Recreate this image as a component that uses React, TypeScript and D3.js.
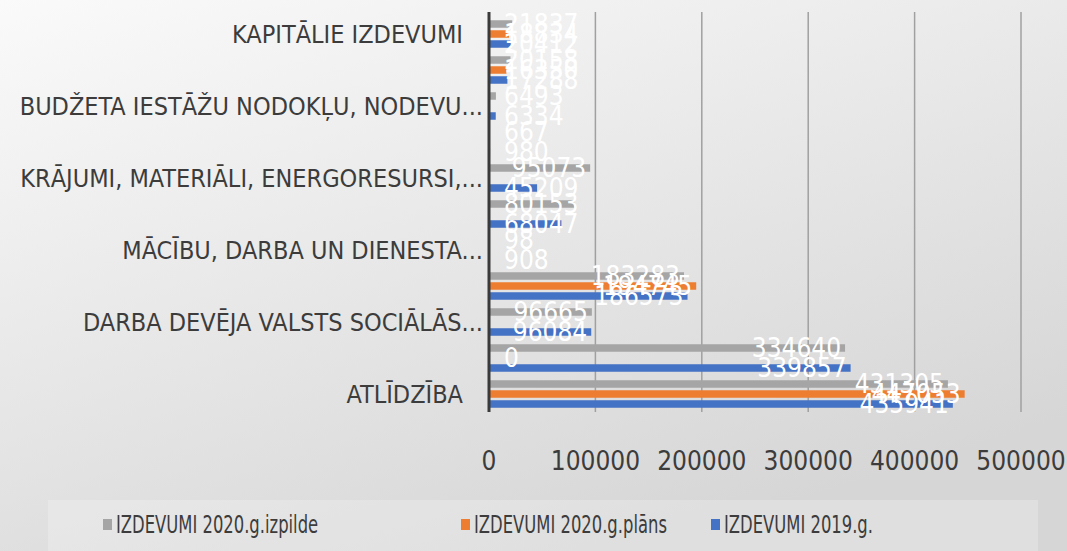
import React, { useEffect, useRef } from "react";
import * as d3 from "d3";

const categories = [
  "ATLĪDZĪBA",
  "ATALGOJUMS",
  "DARBA DEVĒJA VALSTS SOCIĀLĀS...",
  "PRECES UN PAKALPOJUMI",
  "MĀCĪBU, DARBA UN DIENESTA...",
  "PAKALPOJUMI",
  "KRĀJUMI, MATERIĀLI, ENERGORESURSI,...",
  "GRĀMATAS UN ŽURNĀLI",
  "BUDŽETA IESTĀŽU NODOKĻU, NODEVU...",
  "PAMATKAPITĀLA VEIDOŠANA",
  "KAPITĀLIE IZDEVUMI",
];
const seriesNames = ["IZDEVUMI 2020.g.izpilde", "IZDEVUMI 2020.g.plāns", "IZDEVUMI 2019.g."];
const seriesColors = ["#a5a5a5", "#ed7d31", "#4472c4"];
const izpilde2020: (number | null)[] = [431305, 334640, 96665, 183283, 98, 80153, 95073, 667, 6493, 20158, 21837];
const plans2020: (number | null)[] = [447053, 0, null, 194745, null, null, null, null, null, 16350, 18834];
const izdevumi2019: (number | null)[] = [435941, 339857, 96084, 186573, 908, 68047, 45209, 980, 6334, 17288, 20412];
const xTicks = [0, 100000, 200000, 300000, 400000, 500000];

const W = 1067;
const H = 551;
const FONT = "'DejaVu Sans Condensed', 'Liberation Sans Narrow', sans-serif";
const legendX = [103, 461, 711];

export default function App() {
  const ref = useRef<SVGSVGElement>(null);
  useEffect(() => {
    const svg = d3.select(ref.current);
    svg.selectAll("*").remove();
    const defs = svg.append("defs");
    const grad = defs
      .append("linearGradient")
      .attr("id", "bg")
      .attr("x1", "0")
      .attr("y1", "0")
      .attr("x2", "0.6")
      .attr("y2", "1");
    grad.append("stop").attr("offset", "0").attr("stop-color", "#fafafa");
    grad.append("stop").attr("offset", "1").attr("stop-color", "#d6d6d6");
    svg.append("rect").attr("width", W).attr("height", H).attr("fill", "url(#bg)");

    // legend box
    svg
      .append("rect")
      .attr("x", 48)
      .attr("y", 500)
      .attr("width", 990)
      .attr("height", 51)
      .attr("fill", "#ffffff")
      .attr("opacity", 0.22);

    const x = d3.scaleLinear().domain([0, 500000]).range([489, 1021]);
    const y0 = d3.scaleBand<string>().domain(categories).range([412, 16]);
    const y1 = d3.scaleBand<string>().domain(seriesNames).range([4.25, 31.75]).paddingInner(0.25);

    // grid
    svg
      .append("g")
      .selectAll("line")
      .data(xTicks.filter((t) => t > 0))
      .join("line")
      .attr("x1", (d) => x(d))
      .attr("x2", (d) => x(d))
      .attr("y1", 12)
      .attr("y2", 412)
      .attr("stroke", "#a0a0a0")
      .attr("stroke-width", 1.5);

    const series = [izpilde2020, plans2020, izdevumi2019];
    const barsG = svg.append("g");
    series.forEach((vals, si) => {
      barsG
        .append("g")
        .selectAll("rect")
        .data(vals.map((v, i) => ({ v, c: categories[i] })).filter((d) => d.v !== null))
        .join("rect")
        .attr("x", x(0))
        .attr("y", (d) => (y0(d.c) as number) + (y1(seriesNames[si]) as number))
        .attr("width", (d) => Math.max(0, x(d.v as number) - x(0)))
        .attr("height", y1.bandwidth())
        .attr("fill", seriesColors[si]);
    });

    // axis line
    svg
      .append("line")
      .attr("x1", x(0))
      .attr("x2", x(0))
      .attr("y1", 12)
      .attr("y2", 412)
      .attr("stroke", "#3a3a3a")
      .attr("stroke-width", 3);

    // data labels
    const lblG = svg.append("g").attr("font-family", FONT).attr("font-size", 26).attr("fill", "#ffffff");
    series.forEach((vals, si) => {
      vals.forEach((v, i) => {
        if (v === null) return;
        const cy = (y0(categories[i]) as number) + (y1(seriesNames[si]) as number) + y1.bandwidth() / 2;
        const t = lblG
          .append("text")
          .attr("y", cy)
          .attr("dominant-baseline", "central")
          .text(String(v));
        const w = (t.node() as SVGTextElement).getComputedTextLength();
        const xs = Math.max(x(v) - 4 - w, x(0) + 15);
        t.attr("x", xs);
      });
    });

    // category labels (every other one shown)
    svg
      .append("g")
      .attr("font-family", FONT)
      .attr("font-size", 25)
      .attr("fill", "#3c3c3c")
      .selectAll("text")
      .data(categories.filter((_, i) => i % 2 === 0))
      .join("text")
      .attr("x", 483)
      .attr("dx", (d) => (d.endsWith("...") ? 0 : -20))
      .attr("y", (d) => (y0(d) as number) + y0.bandwidth() / 2)
      .attr("dominant-baseline", "central")
      .attr("text-anchor", "end")
      .text((d) => d);

    // tick labels
    svg
      .append("g")
      .attr("font-family", FONT)
      .attr("font-size", 26)
      .attr("fill", "#3c3c3c")
      .selectAll("text")
      .data(xTicks)
      .join("text")
      .attr("x", (d) => x(d))
      .attr("y", 461)
      .attr("dominant-baseline", "central")
      .attr("text-anchor", "middle")
      .text((d) => String(d));

    // legend
    const legG = svg.append("g").attr("font-family", FONT).attr("font-size", 24).attr("fill", "#3c3c3c");
    seriesNames.forEach((name, si) => {
      const g = legG.append("g").attr("transform", `translate(${legendX[si]},525)`);
      g.append("rect").attr("x", 0).attr("y", -6).attr("width", 9).attr("height", 11).attr("fill", seriesColors[si]);
      g.append("text")
        .attr("transform", "translate(13,0) scale(0.76,1)")
        .attr("dominant-baseline", "central")
        .text(name);
    });
  }, []);
  return (
    <svg
      ref={ref}
      width={W}
      height={H}
      style={{ display: "block", position: "absolute", left: 0, top: 0 }}
    />
  );
}
